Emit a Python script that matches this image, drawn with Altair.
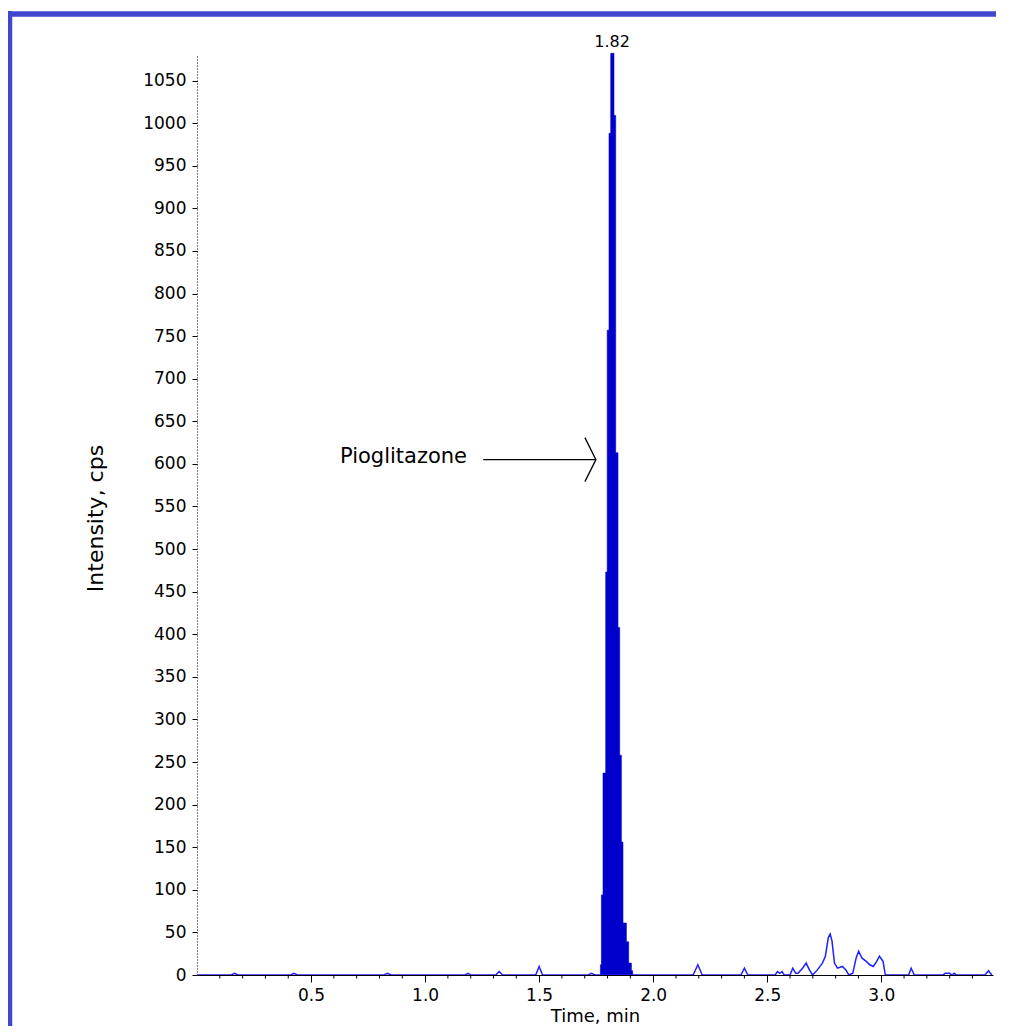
import altair as alt
import pandas as pd

# baseline noise trace (time in min, intensity in cps)
noise_time = [0.00, 0.15, 0.165, 0.18, 0.41, 0.425, 0.44, 0.82, 0.836, 0.85,
              1.175, 1.189, 1.20, 1.31, 1.325, 1.34, 1.485, 1.50, 1.515,
              1.715, 1.729, 1.745, 1.76, 1.91,
              2.175, 2.196, 2.215, 2.385, 2.40, 2.415,
              2.535, 2.545, 2.555, 2.565, 2.575,
              2.60, 2.612, 2.625, 2.635, 2.655, 2.671, 2.685, 2.699,
              2.72, 2.742, 2.755, 2.768, 2.776, 2.784, 2.795, 2.808,
              2.83, 2.845, 2.858, 2.875, 2.89, 2.901, 2.915, 2.934,
              2.95, 2.965, 2.98, 2.992, 3.008, 3.018,
              3.12, 3.131, 3.145, 3.27, 3.28, 3.30, 3.31, 3.32, 3.33,
              3.455, 3.47, 3.485]
noise_int = [0, 0, 2, 0, 0, 2, 0, 0, 2, 0,
             0, 2, 0, 0, 4, 0, 0, 10, 0,
             0, 2, 0, 0, 0,
             0, 12, 0, 0, 8, 0,
             0, 4, 2, 4, 0,
             0, 8, 2, 2, 8, 14, 6, 0,
             6, 14, 22, 44, 48, 40, 14, 8,
             10, 6, 0, 2, 20, 28, 20, 16,
             12, 10, 16, 22, 16, 0,
             0, 8, 0, 0, 2, 2, 0, 2, 0,
             0, 5, 0]

# main peak (drawn filled)
peak_time = [1.7670, 1.7687, 1.7731, 1.7801, 1.7919, 1.7985, 1.8064, 1.8139,
             1.8283, 1.8357, 1.8458, 1.8533, 1.8607, 1.8677, 1.8826, 1.8927,
             1.9045, 1.9102]
peak_int = [0, 12, 94, 237, 473, 757, 988, 1082,
            1009, 613, 408, 258, 156, 61, 39, 14,
            5, 0]

x_major = [0.5, 1.0, 1.5, 2.0, 2.5, 3.0]
x_minor = [0.1, 0.2, 0.3, 0.4, 0.6, 0.7, 0.8, 0.9,
           1.1, 1.2, 1.3, 1.4, 1.6, 1.7, 1.8, 1.9,
           2.1, 2.2, 2.3, 2.4, 2.6, 2.7, 2.8, 2.9,
           3.1, 3.2, 3.3, 3.4]
y_ticks = [0, 50, 100, 150, 200, 250, 300, 350, 400, 450, 500, 550,
           600, 650, 700, 750, 800, 850, 900, 950, 1000, 1050]

apex_time, apex_int, apex_label = 1.82, 1082, '1.82'
compound = 'Pioglitazone'
arrow_from, arrow_to, arrow_level = 1.255, 1.749, 605
label_time, label_level = 1.184, 601

FONT = 'DejaVu Sans'
FRAME = '#3f48cc'
PEAK = '#0000cc'

noise = pd.DataFrame({'time': noise_time, 'intensity': noise_int})
peak = pd.DataFrame({'time': peak_time, 'intensity': peak_int})
minor = pd.DataFrame({'time': x_minor})
arrow = pd.DataFrame({'time': [arrow_from], 'time2': [arrow_to],
                      'intensity': [arrow_level]})
head = pd.DataFrame({'time': [arrow_to], 'intensity': [arrow_level]})
label = pd.DataFrame({'time': [label_time], 'intensity': [label_level],
                      'text': [compound]})
apex = pd.DataFrame({'time': [apex_time], 'intensity': [apex_int],
                     'text': [apex_label]})

x_scale = alt.Scale(domain=[0, 3.49], nice=False, zero=False)
y_scale = alt.Scale(domain=[0, 1080], nice=False)

x_axis = alt.Axis(
    values=x_major,
    format='.1f',
    labelOverlap=False,
    tickSize=7,
    labelPadding=5,
    labelFontSize=17,
    title='Time, min',
    titleFontSize=18,
    titleY=46,
    titleBaseline='alphabetic',
    zindex=1,
)
y_axis = alt.Axis(
    values=y_ticks,
    format='d',
    labelOverlap=False,
    tickSize=5,
    labelPadding=6,
    labelFontSize=17,
    domainDash=[1, 2],
    title='Intensity, cps',
    titleFontSize=22,
    titleAngle=270,
    titleX=-95,
    titleY=463,
    titleAlign='center',
    titleBaseline='alphabetic',
)

area = alt.Chart(peak).mark_area(
    interpolate='step-after', color=PEAK, stroke=PEAK, strokeWidth=0.6
).encode(
    x=alt.X('time:Q', scale=x_scale, axis=x_axis),
    y=alt.Y('intensity:Q', scale=y_scale, axis=y_axis),
)

trace = alt.Chart(noise).mark_line(color='#2020ff', strokeWidth=1.5).encode(
    x='time:Q', y='intensity:Q'
)

# short minor ticks under the time axis
minor_ticks = alt.Chart(minor).mark_rule(color='black', strokeWidth=1).encode(
    x='time:Q', y=alt.value(920), y2=alt.value(923.5)
)

arrow_line = alt.Chart(arrow).mark_rule(color='black', strokeWidth=1.3).encode(
    x='time:Q', x2='time2:Q', y='intensity:Q'
)

arrow_head = alt.Chart(head).mark_point(
    shape='M-0.5,-1L0,0L-0.5,1', size=1936, filled=False,
    color='black', strokeWidth=1.3, opacity=1
).encode(x='time:Q', y='intensity:Q')

label_text = alt.Chart(label).mark_text(
    font=FONT, fontSize=21, align='right', baseline='alphabetic', color='black'
).encode(x='time:Q', y='intensity:Q', text='text:N')

apex_text = alt.Chart(apex).mark_text(
    font=FONT, fontSize=16, align='center', baseline='alphabetic',
    color='black', dy=-6
).encode(x='time:Q', y='intensity:Q', text='text:N')

# blue window frame on top and left
frame_top = alt.Chart(apex).mark_rule(color=FRAME, strokeWidth=5.5).encode(
    x=alt.value(-192), x2=alt.value(820), y=alt.value(-41)
)
frame_left = alt.Chart(apex).mark_rule(color=FRAME, strokeWidth=5.5).encode(
    x=alt.value(-187.5), y=alt.value(-44), y2=alt.value(1000)
)

chart = alt.layer(
    area, trace, minor_ticks, arrow_line, arrow_head, label_text, apex_text,
    frame_top, frame_left
).properties(
    width=796,
    height=920,
    autosize=alt.AutoSizeParams(type='none'),
    padding={'left': 189, 'top': 47, 'right': 3, 'bottom': 51},
    background='white',
).configure_axis(
    grid=False,
    labelFont=FONT,
    titleFont=FONT,
    labelColor='black',
    titleColor='black',
    domainColor='black',
    tickColor='black',
    titleFontWeight='normal',
).configure_view(strokeOpacity=0)

chart.save('out.html', embed_options={'renderer': 'svg', 'actions': False})
